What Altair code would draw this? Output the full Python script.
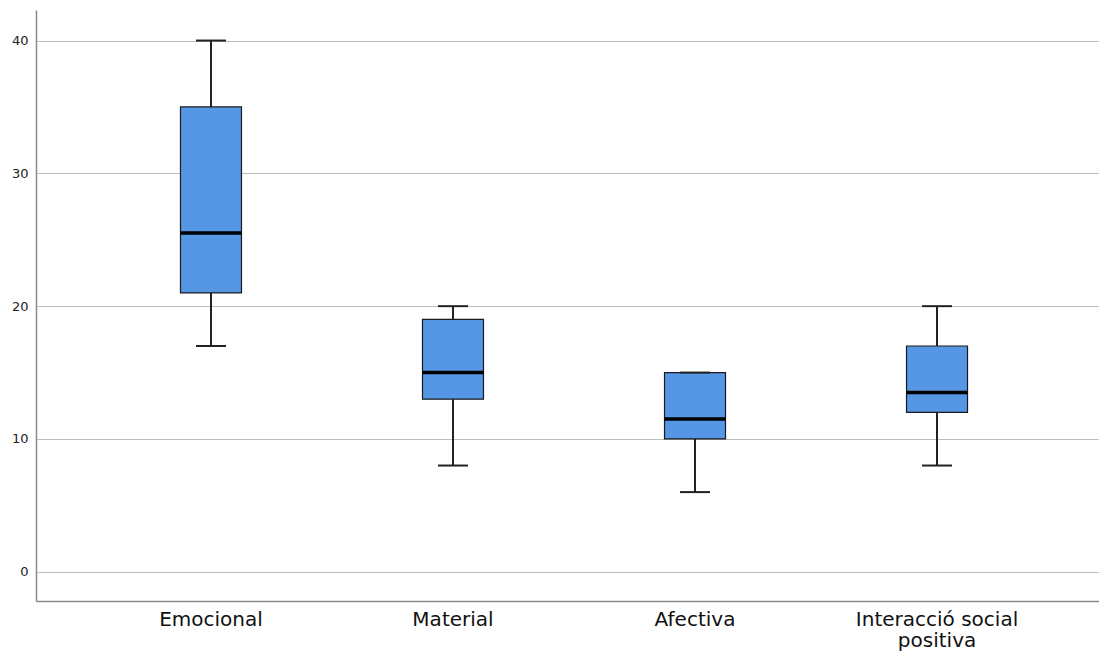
import altair as alt
import pandas as pd

# Box-plot summary per support dimension
categories = ["Emocional", "Material", "Afectiva", "Interacció social positiva"]
whisker_low = [17, 8, 6, 8]
q1 = [21, 13, 10, 12]
median = [25.5, 15, 11.5, 13.5]
q3 = [35, 19, 15, 17]
whisker_high = [40, 20, 15, 20]

df = pd.DataFrame({
    "cat": categories,
    "lo": whisker_low,
    "q1": q1,
    "med": median,
    "q3": q3,
    "hi": whisker_high,
})

label_expr = ("datum.label == 'Interacció social positiva' ? "
              "['Interacció social', 'positiva'] : datum.label")

x = alt.X(
    "cat:N",
    sort=categories,
    title=None,
    scale=alt.Scale(paddingInner=0, paddingOuter=0.223, range=[0, 1076]),
    axis=alt.Axis(
        labelAngle=0, ticks=False, labelFontSize=20, labelColor="#111111",
        labelFont="DejaVu Sans", labelPadding=8, labelExpr=label_expr,
        labelLineHeight=21, domainColor="#8a8a8a", domainWidth=1.5,
        grid=False, labelBaseline="top",
    ),
)

yscale = alt.Scale(domain=[-2.2, 42.3], nice=False, zero=False)
yaxis = alt.Axis(
    values=[0, 10, 20, 30, 40], ticks=False, labelFontSize=13,
    labelColor="#222222", labelFont="DejaVu Sans", labelPadding=8,
    domainColor="#8a8a8a", domainWidth=1.5, grid=True, gridColor="#bdbdbd",
    gridWidth=1.2, title=None,
)

base = alt.Chart(df).encode(x=x)

lower = base.mark_rule(color="#222222", strokeWidth=2).encode(
    y=alt.Y("lo:Q", scale=yscale, axis=yaxis), y2="q1:Q"
)
upper = base.mark_rule(color="#222222", strokeWidth=2).encode(
    y=alt.Y("q3:Q", scale=yscale), y2="hi:Q"
)
box = base.mark_bar(
    size=61, color="#5596e5", stroke="#1a1a1a", strokeWidth=1.2, opacity=1
).encode(y=alt.Y("q1:Q", scale=yscale), y2="q3:Q")
med = base.mark_tick(size=61, thickness=3.5, color="#000000", opacity=1).encode(
    y=alt.Y("med:Q", scale=yscale)
)
cap_lo = base.mark_tick(size=30, thickness=2, color="#222222", opacity=1).encode(
    y=alt.Y("lo:Q", scale=yscale)
)
cap_hi = base.mark_tick(size=30, thickness=2, color="#222222", opacity=1).encode(
    y=alt.Y("hi:Q", scale=yscale)
)

chart = (
    alt.layer(lower, upper, box, med, cap_lo, cap_hi)
    .properties(
        width=1063, height=591,
        autosize=alt.AutoSizeParams(type="none"),
        padding={"left": 36, "top": 10, "right": 0, "bottom": 50},
        background="white",
    )
    .configure_view(strokeWidth=0)
)

chart.save("out.html", embed_options={"renderer": "svg", "actions": False})
